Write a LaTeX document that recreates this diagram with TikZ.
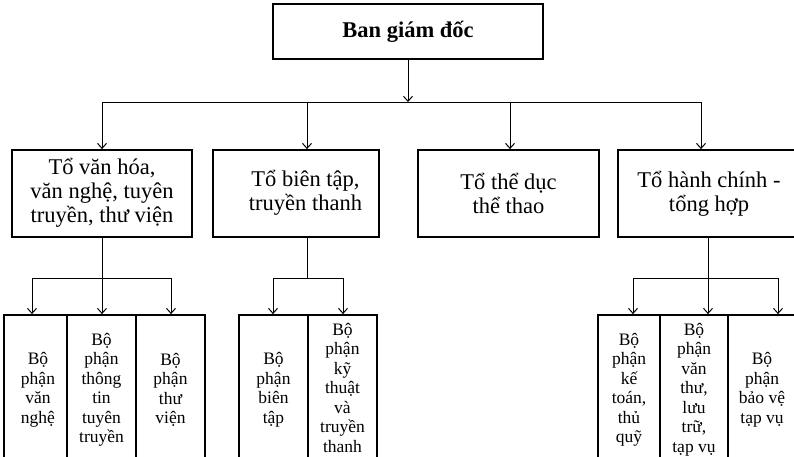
\documentclass[tikz,border=0pt]{standalone}
\usepackage{fontspec}
\setmainfont{Liberation Serif}
\usetikzlibrary{arrows.meta}
\newcommand{\stk}[1]{\begin{tabular}{@{}c@{}}#1\end{tabular}}
\begin{document}
\begin{tikzpicture}[x=1pt,y=-1pt,
  box/.style={draw=black, line width=1.8pt, inner sep=0pt, align=center},
  topbox/.style={box, minimum width=270pt, minimum height=55pt, font=\fontsize{22.5}{24}\selectfont\bfseries},
  midbox/.style={box, minimum height=87pt, font=\fontsize{22.5}{23.8}\selectfont},
  lowbox/.style={box, minimum height=150pt, font=\fontsize{17.5}{19.5}\selectfont},
  ln/.style={draw=black, line width=1pt},
  arr/.style={ln, -{Straight Barb[length=5pt,width=9pt,line width=1pt]}}]
\useasboundingbox (0,0) rectangle (794,456);
\clip (0,0) rectangle (794,456);
\fill[white] (0,0) rectangle (794,456);

% top
\node[topbox] (top) at (408,31.5) {Ban giám đốc};

% level 2
\node[midbox, minimum width=180pt] (b1) at (102,193.5) {\raisebox{-4pt}{\stk{Tổ văn hóa,\\văn nghệ, tuyên\\truyền, thư viện}}};
\node[midbox, minimum width=166pt] (b2) at (296,193.5) {\hspace*{19pt}\stk{Tổ biên tập,\\truyền thanh}};
\node[midbox, minimum width=181pt] (b3) at (508.5,193.5) {Tổ thể dục\\thể thao};
\node[midbox, minimum width=182pt] (b4) at (709,193.5) {Tổ hành chính -\\tổng hợp};

% level 3
\node[lowbox, minimum width=63pt] (c11) at (35.5,390) {\hspace*{5pt}\stk{Bộ\\phận\\văn\\nghệ}};
\node[lowbox, minimum width=69pt] (c12) at (101.5,390) {Bộ\\phận\\thông\\tin\\tuyên\\truyền};
\node[lowbox, minimum width=69pt] (c13) at (170.5,390) {Bộ\\phận\\thư\\viện};

\node[lowbox, minimum width=69pt] (c21) at (273.5,390) {Bộ\\phận\\biên\\tập};
\node[lowbox, minimum width=69pt] (c22) at (342.5,390) {\raisebox{3pt}{\stk{Bộ\\phận\\kỹ\\thuật\\và\\truyền\\thanh}}};

\node[lowbox, minimum width=62pt] (c31) at (629,390) {Bộ\\phận\\kế\\toán,\\thủ\\quỹ};
\node[lowbox, minimum width=68pt] (c32) at (694,390) {\raisebox{2pt}{\stk{Bộ\\phận\\văn\\thư,\\lưu\\trữ,\\tạp vụ}}};
\node[lowbox, minimum width=68pt] (c33) at (762,390) {Bộ\\phận\\bảo vệ\\tạp vụ};

% main bus
\coordinate (busA) at (102,102);
\coordinate (busC) at (307,102);
\coordinate (busD) at (510,102);
\coordinate (busB) at (701,102);
\draw[arr] (top.south) -- (top.south |- busA);
\draw[ln] (busA) -- (busB);
\draw[arr] (busA) -- (busA |- b1.north);
\draw[arr] (busC) -- (busC |- b2.north);
\draw[arr] (busD) -- (busD |- b3.north);
\draw[arr] (busB) -- (busB |- b4.north);

% group 1
\coordinate (g1L) at (32,278);
\coordinate (g1M) at (102,278);
\coordinate (g1R) at (171,278);
\draw[ln] (b1.south) -- (g1M);
\draw[ln] (g1L) -- (g1R);
\draw[arr] (g1L) -- (g1L |- c11.north);
\draw[arr] (g1M) -- (g1M |- c12.north);
\draw[arr] (g1R) -- (g1R |- c13.north);

% group 2
\coordinate (g2L) at (273,278);
\coordinate (g2M) at (307,278);
\coordinate (g2R) at (343,278);
\draw[ln] (g2M |- b2.south) -- (g2M);
\draw[ln] (g2L) -- (g2R);
\draw[arr] (g2L) -- (g2L |- c21.north);
\draw[arr] (g2R) -- (g2R |- c22.north);

% group 3
\coordinate (g3L) at (633,278);
\coordinate (g3M) at (708,278);
\coordinate (g3R) at (778,278);
\draw[ln] (g3M |- b4.south) -- (g3M);
\draw[ln] (g3L) -- (g3R);
\draw[arr] (g3L) -- (g3L |- c31.north);
\draw[arr] (g3M) -- (g3M |- c32.north);
\draw[arr] (g3R) -- (g3R |- c33.north);
\end{tikzpicture}
\end{document}
